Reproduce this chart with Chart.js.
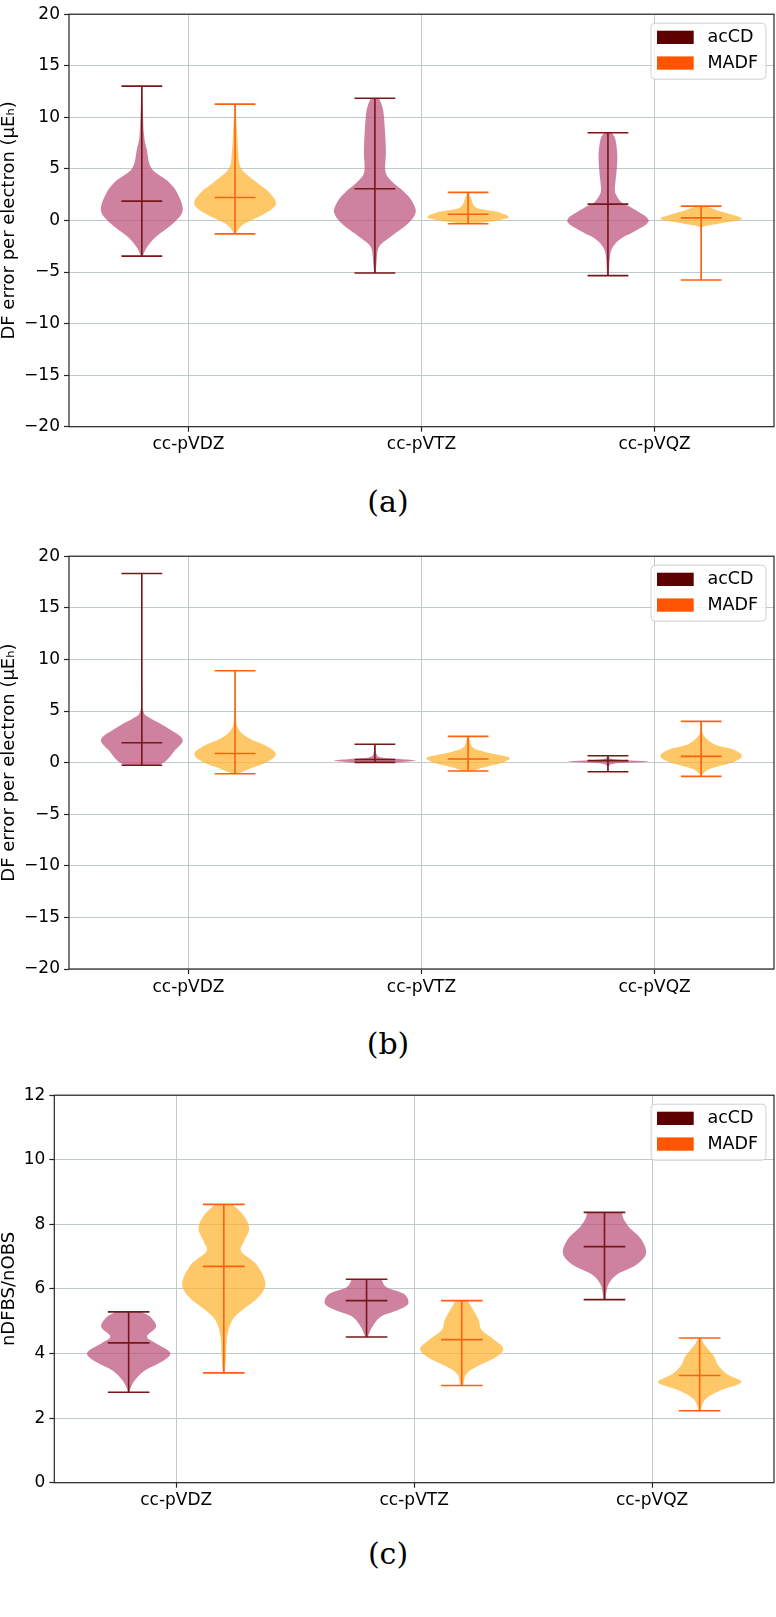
<!DOCTYPE html>
<html>
<head>
<meta charset="utf-8">
<script src="https://cdn.jsdelivr.net/npm/chart.js@4.4.0/dist/chart.umd.min.js"></script>
<style>
  body { margin: 0; background: #fff; width: 776px; height: 1617px; position: relative; overflow: hidden; }
  .panel { position: absolute; left: 0; width: 776px; }
  .panel canvas { display: block; }
  .cap { position: absolute; left: 0; width: 776px; text-align: center; font-family: 'DejaVu Serif', serif; font-size: 30px; line-height: 1; color: #000; }
</style>
</head>
<body>
<div class="panel" style="top:0"><canvas id="chartA" width="776" height="470"></canvas></div>
<div class="cap" style="top:487px">(a)</div>
<div class="panel" style="top:542px"><canvas id="chartB" width="776" height="470"></canvas></div>
<div class="cap" style="top:1029px">(b)</div>
<div class="panel" style="top:1081px"><canvas id="chartC" width="776" height="445"></canvas></div>
<div class="cap" style="top:1539px">(c)</div>

<script>
/* ── data ─────────────────────────────────────────────── */
const categories = ['cc-pVDZ', 'cc-pVTZ', 'cc-pVQZ'];
const seriesNames = ['acCD', 'MADF'];

// panel (a): DF error per electron
const aAcCDMin  = [-3.46, -5.10, -5.35];
const aAcCDMax  = [13.03, 11.85, 8.50];
const aAcCDMean = [1.87, 3.07, 1.58];
const aMadfMin  = [-1.30, -0.32, -5.77];
const aMadfMax  = [11.28, 2.72, 1.39];
const aMadfMean = [2.22, 0.60, 0.25];
// violin outlines: [value, relative half-width]
const aAcCDShape = [
  [[-3.46,0.02],[-2.57,0.13],[-1.6,0.34],[-0.35,0.75],[0.92,1.0],[2.5,0.89],[3.77,0.65],[5.04,0.24],[6.9,0.12],[8.52,0.05],[13.03,0.01]],
  [[-5.1,0.02],[-4.15,0.04],[-2.57,0.1],[-1.6,0.38],[-0.35,0.8],[0.76,1.0],[1.87,0.91],[2.82,0.7],[3.77,0.42],[4.72,0.26],[6.62,0.27],[8.52,0.25],[10.75,0.2],[11.85,0.1]],
  [[-5.35,0.02],[-3.2,0.06],[-2.25,0.18],[-1.6,0.38],[-0.99,0.68],[0.03,1.0],[1.24,0.58],[1.7,0.35],[2.5,0.2],[3.14,0.17],[4.72,0.21],[6.31,0.23],[7.89,0.18],[8.5,0.09]]
];
const aMadfShape = [
  [[-1.3,0.02],[-0.99,0.07],[-0.35,0.22],[0.6,0.7],[1.55,1.0],[2.66,0.85],[3.77,0.5],[5.04,0.15],[6.5,0.08],[8.52,0.05],[11.28,0.01]],
  [[-0.32,0.1],[-0.19,0.36],[0.03,0.77],[0.35,1.0],[0.86,0.68],[1.24,0.2],[2.19,0.07],[2.72,0.02]],
  [[-5.77,0.01],[-2.0,0.01],[-0.9,0.02],[-0.6,0.06],[-0.28,0.48],[0.13,1.0],[0.6,0.73],[1.0,0.38],[1.39,0.1]]
];

// panel (b): DF error per electron
const bAcCDMin  = [-0.25, 0.02, -0.88];
const bAcCDMax  = [18.32, 1.78, 0.67];
const bAcCDMean = [1.93, 0.30, 0.19];
const bMadfMin  = [-1.08, -0.82, -1.33];
const bMadfMax  = [8.90, 2.54, 3.99];
const bMadfMean = [0.88, 0.35, 0.60];
const bAcCDShape = [
  [[-0.25,0.42],[0.18,0.6],[1.14,0.8],[2.25,1.0],[3.36,0.63],[4.31,0.2],[4.94,0.04],[7.0,0.01],[18.32,0.005]],
  [[0.02,0.6],[0.2,1.0],[0.35,0.6],[0.5,0.15],[0.8,0.04],[1.78,0.01]],
  [[-0.88,0.005],[-0.3,0.03],[-0.1,0.15],[0.0,0.6],[0.1,1.0],[0.2,0.6],[0.35,0.1],[0.67,0.01]]
];
const bMadfShape = [
  [[-1.08,0.08],[-0.6,0.36],[0.03,0.77],[0.82,1.0],[1.61,0.77],[2.41,0.32],[3.36,0.07],[5.0,0.02],[8.9,0.01]],
  [[-0.82,0.1],[-0.45,0.4],[0.03,0.87],[0.51,1.0],[0.99,0.46],[1.46,0.12],[2.54,0.02]],
  [[-1.33,0.02],[-1.08,0.05],[-0.6,0.22],[0.03,0.77],[0.67,1.0],[1.3,0.77],[1.78,0.32],[2.72,0.05],[3.99,0.02]]
];

// panel (c): nDFBS/nOBS
const cAcCDMin  = [2.80, 4.51, 5.67];
const cAcCDMax  = [5.29, 6.30, 8.37];
const cAcCDMean = [4.33, 5.64, 7.31];
const cMadfMin  = [3.40, 3.01, 2.23];
const cMadfMax  = [8.62, 5.64, 4.48];
const cMadfMean = [6.70, 4.43, 3.32];
const cAcCDShape = [
  [[2.8,0.02],[2.91,0.04],[3.17,0.15],[3.47,0.38],[3.72,0.76],[4.02,1.0],[4.33,0.64],[4.53,0.44],[4.83,0.66],[5.14,0.52],[5.29,0.3]],
  [[4.51,0.03],[4.58,0.05],[4.83,0.14],[5.14,0.34],[5.34,0.74],[5.54,1.0],[5.84,0.9],[6.05,0.48],[6.3,0.36]],
  [[5.67,0.03],[5.84,0.04],[6.15,0.1],[6.45,0.3],[6.75,0.77],[7.11,1.0],[7.56,0.87],[7.87,0.62],[8.17,0.46],[8.37,0.42]]
];
const cMadfShape = [
  [[3.4,0.02],[3.82,0.05],[4.53,0.08],[5.03,0.2],[5.34,0.44],[5.74,0.83],[6.17,1.0],[6.75,0.79],[7.16,0.42],[7.46,0.48],[7.87,0.61],[8.27,0.48],[8.62,0.2]],
  [[3.01,0.04],[3.37,0.11],[3.62,0.4],[3.87,0.8],[4.15,1.0],[4.43,0.78],[4.73,0.48],[5.03,0.41],[5.34,0.28],[5.64,0.14]],
  [[2.23,0.03],[2.36,0.05],[2.61,0.16],[2.86,0.51],[3.11,1.0],[3.37,0.65],[3.62,0.45],[3.92,0.34],[4.23,0.14],[4.48,0.03]]
];

/* ── style ────────────────────────────────────────────── */
const OFFSET = 0.2;        // violin offset from category centre
const HALF_W = 0.175;      // half of violin width (0.35)
const CAP_W  = 0.0875;
const FONT   = 'DejaVu Sans';
const GRID   = '#bfcaca';
const styles = [
  { body: 'rgba(188,80,124,0.72)', line: '#741818', patch: '#5c0000' },
  { body: 'rgba(254,180,50,0.74)', line: '#ff6010', patch: '#ff5500' }
];

/* ── drawing helpers ──────────────────────────────────── */
function smoothPath(ctx, pts, moveFirst) {
  if (moveFirst) ctx.moveTo(pts[0][0], pts[0][1]); else ctx.lineTo(pts[0][0], pts[0][1]);
  for (let i = 0; i < pts.length - 1; i++) {
    const p0 = pts[Math.max(i - 1, 0)], p1 = pts[i], p2 = pts[i + 1], p3 = pts[Math.min(i + 2, pts.length - 1)];
    ctx.bezierCurveTo(
      p1[0] + (p2[0] - p0[0]) / 6, p1[1] + (p2[1] - p0[1]) / 6,
      p2[0] - (p3[0] - p1[0]) / 6, p2[1] - (p3[1] - p1[1]) / 6,
      p2[0], p2[1]);
  }
}

function drawViolin(ctx, x, y, pos, shape, st) {
  const right = shape.map(([v, w]) => [x.getPixelForValue(pos + w * HALF_W), y.getPixelForValue(v)]);
  const left = shape.map(([v, w]) => [x.getPixelForValue(pos - w * HALF_W), y.getPixelForValue(v)]).reverse();
  ctx.beginPath();
  smoothPath(ctx, right, true);
  smoothPath(ctx, left, false);
  ctx.closePath();
  ctx.fillStyle = st.body;
  ctx.fill();
}

function drawStats(ctx, x, y, pos, lo, hi, mean, st) {
  const cx = x.getPixelForValue(pos);
  const x0 = x.getPixelForValue(pos - CAP_W), x1 = x.getPixelForValue(pos + CAP_W);
  ctx.strokeStyle = st.line;
  ctx.lineWidth = 1.6;
  ctx.beginPath();
  ctx.moveTo(cx, y.getPixelForValue(lo)); ctx.lineTo(cx, y.getPixelForValue(hi));
  [lo, hi, mean].forEach(v => {
    const py = y.getPixelForValue(v);
    ctx.moveTo(x0, py); ctx.lineTo(x1, py);
  });
  ctx.stroke();
}

function drawLegend(ctx, a) {
  const bw = 115, bh = 56, r = 4;
  const bx = a.right - 8 - bw, by = a.top + 9;
  ctx.save();
  ctx.beginPath();
  ctx.roundRect(bx, by, bw, bh, r);
  ctx.fillStyle = 'rgba(255,255,255,0.8)';
  ctx.fill();
  ctx.strokeStyle = '#d0d0d0';
  ctx.lineWidth = 1;
  ctx.stroke();
  ctx.font = '17.5px "' + FONT + '"';
  ctx.textBaseline = 'middle';
  ctx.textAlign = 'left';
  seriesNames.forEach((name, i) => {
    const ry = by + 7.5 + i * 25.7;
    ctx.fillStyle = styles[i].patch;
    ctx.fillRect(bx + 6, ry, 36.7, 13.3);
    ctx.fillStyle = '#000';
    ctx.fillText(name, bx + 56.5, ry + 7);
  });
  ctx.restore();
}

const violinPlugin = {
  id: 'violins',
  afterDatasetsDraw(chart, args, opts) {
    const { ctx, chartArea: a, scales: { x, y } } = chart;
    ctx.save();
    ctx.beginPath();
    ctx.rect(a.left, a.top, a.right - a.left, a.bottom - a.top);
    ctx.clip();
    opts.series.forEach((s, si) => {
      const st = styles[si];
      const off = si === 0 ? -OFFSET : OFFSET;
      categories.forEach((c, i) => {
        const pos = i + 1 + off;
        drawViolin(ctx, x, y, pos, s.shape[i], st);
        drawStats(ctx, x, y, pos, s.min[i], s.max[i], s.mean[i], st);
      });
    });
    ctx.restore();
    // frame
    ctx.save();
    ctx.strokeStyle = '#262626';
    ctx.lineWidth = 1.2;
    ctx.strokeRect(a.left, a.top, a.right - a.left, a.bottom - a.top);
    ctx.restore();
    drawLegend(ctx, a);
  }
};

/* ── chart factory ────────────────────────────────────── */
function makePanel(id, yMin, yMax, yStep, yTitle, axisW, padTop, areaH, series) {
  const canvas = document.getElementById(id);
  const tickFont = { family: FONT, size: 17 };
  return new Chart(canvas, {
    type: 'scatter',
    data: { datasets: seriesNames.map(n => ({ label: n, data: [] })) },
    options: {
      responsive: false, animation: false, devicePixelRatio: 1,
      layout: { padding: { top: padTop, right: 2, left: 0, bottom: 0 } },
      plugins: {
        legend: { display: false }, tooltip: { enabled: false },
        violins: { series }
      },
      scales: {
        x: {
          type: 'linear', min: 0.4875, max: 3.5125,
          afterBuildTicks: s => { s.ticks = categories.map((c, i) => ({ value: i + 1 })); },
          afterFit: s => { s.height = canvas.height - padTop - areaH; },
          grid: { color: GRID, lineWidth: 1, tickColor: '#262626', tickLength: 5, tickWidth: 1.2 },
          border: { display: false },
          ticks: { font: tickFont, color: '#000', padding: 3, autoSkip: false, maxRotation: 0,
                   callback: v => categories[v - 1] }
        },
        y: {
          type: 'linear', min: yMin, max: yMax,
          afterFit: s => { s.width = axisW; },
          grid: { color: GRID, lineWidth: 1, tickColor: '#262626', tickLength: 5, tickWidth: 1.2 },
          border: { display: false },
          title: { display: true, text: yTitle, color: '#000', font: { family: FONT, size: 18, lineHeight: 1 }, padding: { top: 0, bottom: 0 } },
          ticks: { font: tickFont, color: '#000', padding: 4, stepSize: yStep,
                   callback: v => (v < 0 ? '\u2212' + Math.abs(v) : String(v)) }
        }
      }
    },
    plugins: [violinPlugin]
  });
}

makePanel('chartA', -20, 20, 5, 'DF error per electron (\u03bcE\u2095)', 69, 6, 420.7, [
  { min: aAcCDMin, max: aAcCDMax, mean: aAcCDMean, shape: aAcCDShape },
  { min: aMadfMin, max: aMadfMax, mean: aMadfMean, shape: aMadfShape }
]);
makePanel('chartB', -20, 20, 5, 'DF error per electron (\u03bcE\u2095)', 69, 6.3, 420.7, [
  { min: bAcCDMin, max: bAcCDMax, mean: bAcCDMean, shape: bAcCDShape },
  { min: bMadfMin, max: bMadfMax, mean: bMadfMean, shape: bMadfShape }
]);
makePanel('chartC', 0, 12, 2, 'nDFBS/nOBS', 54.3, 6, 395.7, [
  { min: cAcCDMin, max: cAcCDMax, mean: cAcCDMean, shape: cAcCDShape },
  { min: cMadfMin, max: cMadfMax, mean: cMadfMean, shape: cMadfShape }
]);
</script>
</body>
</html>
